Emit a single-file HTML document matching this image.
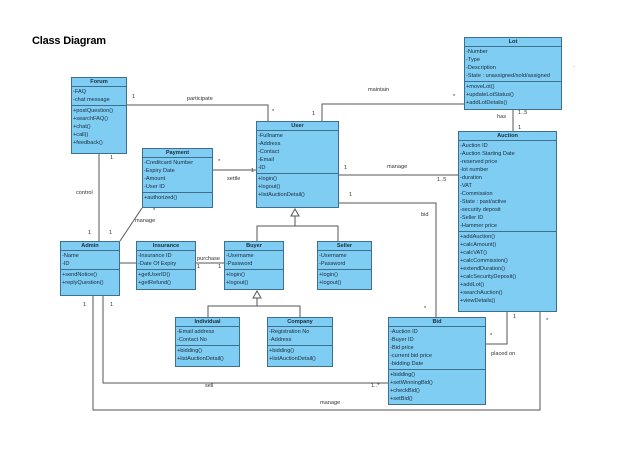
<!DOCTYPE html>
<html><head><meta charset="utf-8">
<style>
body{margin:0;width:640px;height:453px;background:#fff;position:relative;overflow:hidden;font-family:"Liberation Sans",Arial,sans-serif;}
.b{position:absolute;background:#7fcdf2;border:1px solid #3f6f8e;box-sizing:border-box;font-size:5.6px;color:#1a2a3a;}
.h{height:8px;line-height:8px;text-align:center;font-weight:bold;border-bottom:1px solid #3f6f8e;}
.a{border-bottom:1px solid #3f6f8e;padding:1px 0 1px 1px;}
.m{padding:1px 0 0 1px;}
.a div,.m div{height:8px;line-height:8px;white-space:nowrap;}
.t{position:absolute;font-size:5.6px;color:#333;white-space:nowrap;}
</style></head><body>
<div style="position:absolute;left:32px;top:35px;font-size:11px;font-weight:bold;color:#000;letter-spacing:-0.2px;">Class Diagram</div>
<div class="t" style="left:573px;top:64px;color:#888">-</div>
<svg width="640" height="453" style="position:absolute;left:0;top:0" fill="none" stroke="#555" stroke-width="1">
<polyline points="126,105 268,105 268,121"/>
<polyline points="322,121 322,104 464,104"/>
<line x1="513" y1="110" x2="513" y2="131"/>
<line x1="339" y1="175" x2="458" y2="175"/>
<polyline points="339,203 436,203 436,317"/>
<line x1="213" y1="170" x2="256" y2="170"/>
<line x1="99" y1="154" x2="99" y2="241"/>
<line x1="142" y1="208" x2="120" y2="241"/>
<line x1="120" y1="263" x2="136" y2="263"/>
<line x1="196" y1="263" x2="224" y2="263"/>
<polygon points="295,209 291,216 299,216" fill="#fff"/>
<polyline points="295,216 295,226"/>
<polyline points="257,241 257,226 338,226 338,241"/>
<polygon points="257,291 253,298 261,298" fill="#fff"/>
<polyline points="257,298 257,306"/>
<polyline points="208,317 208,306 300,306 300,317"/>
<polyline points="103,296 103,383 388,383"/>
<polyline points="93,296 93,410 540,410 540,312"/>
<polyline points="507,312 507,344 486,344"/>
</svg>
<div class="b" style="left:71px;top:77px;width:56px;height:77px"><div class="h">Forum</div><div class="a"><div>-FAQ</div><div>-chat message</div></div><div class="m"><div>+postQuestion()</div><div>+searchFAQ()</div><div>+chat()</div><div>+call()</div><div>+feedback()</div></div></div>
<div class="b" style="left:142px;top:148px;width:71px;height:60px"><div class="h">Payment</div><div class="a"><div>-Creditcard Number</div><div>-Expiry Date</div><div>-Amount</div><div>-User ID</div></div><div class="m"><div>+authorized()</div></div></div>
<div class="b" style="left:256px;top:121px;width:83px;height:87px"><div class="h">User</div><div class="a"><div>-Fullname</div><div>-Address</div><div>-Contact</div><div>-Email</div><div>-ID</div></div><div class="m"><div>+login()</div><div>+logout()</div><div>+listAuctionDetail()</div></div></div>
<div class="b" style="left:464px;top:37px;width:98px;height:73px"><div class="h">Lot</div><div class="a"><div>-Number</div><div>-Type</div><div>-Description</div><div>-State : unassigned/sold/assigned</div></div><div class="m"><div>+moveLot()</div><div>+updateLotStatus()</div><div>+addLotDetails()</div></div></div>
<div class="b" style="left:458px;top:131px;width:99px;height:181px"><div class="h">Auction</div><div class="a"><div>-Auction ID</div><div>-Auction Starting Date</div><div>-reserved price</div><div>-lot number</div><div>-duration</div><div>-VAT</div><div>-Commission</div><div>-State : past/active</div><div>-security deposit</div><div>-Seller ID</div><div>-Hammer price</div></div><div class="m"><div>+addAuction()</div><div>+calcAmount()</div><div>+calcVAT()</div><div>+calcCommission()</div><div>+extendDuration()</div><div>+calcSecurityDeposit()</div><div>+addLot()</div><div>+searchAuction()</div><div>+viewDetails()</div></div></div>
<div class="b" style="left:60px;top:241px;width:60px;height:55px"><div class="h">Admin</div><div class="a"><div>-Name</div><div>-ID</div></div><div class="m"><div>+sendNotice()</div><div>+replyQuestion()</div></div></div>
<div class="b" style="left:136px;top:241px;width:60px;height:49px"><div class="h">Insurance</div><div class="a"><div>-Insurance ID</div><div>-Date Of Expiry</div></div><div class="m"><div>+getUserID()</div><div>+getRefund()</div></div></div>
<div class="b" style="left:224px;top:241px;width:60px;height:49px"><div class="h">Buyer</div><div class="a"><div>-Username</div><div>-Password</div></div><div class="m"><div>+login()</div><div>+logout()</div></div></div>
<div class="b" style="left:317px;top:241px;width:55px;height:49px"><div class="h">Seller</div><div class="a"><div>-Username</div><div>-Password</div></div><div class="m"><div>+login()</div><div>+logout()</div></div></div>
<div class="b" style="left:175px;top:317px;width:65px;height:50px"><div class="h">Individual</div><div class="a"><div>-Email address</div><div>-Contact No</div></div><div class="m"><div>+bidding()</div><div>+listAuctionDetail()</div></div></div>
<div class="b" style="left:267px;top:317px;width:66px;height:50px"><div class="h">Company</div><div class="a"><div>-Registration No</div><div>-Address</div></div><div class="m"><div>+bidding()</div><div>+listAuctionDetail()</div></div></div>
<div class="b" style="left:388px;top:317px;width:98px;height:88px"><div class="h">Bid</div><div class="a"><div>-Auction ID</div><div>-Buyer ID</div><div>-Bid price</div><div>-current bid price</div><div>-bidding Date</div></div><div class="m"><div>+bidding()</div><div>+setWinningBid()</div><div>+checkBid()</div><div>+setBid()</div></div></div>
<div class="t" style="left:132px;top:94px">1</div>
<div class="t" style="left:187px;top:96px">participate</div>
<div class="t" style="left:272px;top:109px">*</div>
<div class="t" style="left:312px;top:111px">1</div>
<div class="t" style="left:368px;top:87px">maintain</div>
<div class="t" style="left:453px;top:94px">*</div>
<div class="t" style="left:497px;top:114px">has</div>
<div class="t" style="left:518px;top:110px">1..5</div>
<div class="t" style="left:518px;top:125px">1</div>
<div class="t" style="left:344px;top:165px">1</div>
<div class="t" style="left:387px;top:164px">manage</div>
<div class="t" style="left:437px;top:177px">1..5</div>
<div class="t" style="left:349px;top:192px">1</div>
<div class="t" style="left:421px;top:212px">bid</div>
<div class="t" style="left:424px;top:306px">*</div>
<div class="t" style="left:218px;top:159px">*</div>
<div class="t" style="left:251px;top:168px">1</div>
<div class="t" style="left:227px;top:176px">settle</div>
<div class="t" style="left:110px;top:155px">1</div>
<div class="t" style="left:76px;top:190px">control</div>
<div class="t" style="left:153px;top:208px">*</div>
<div class="t" style="left:135px;top:218px">manage</div>
<div class="t" style="left:88px;top:230px">1</div>
<div class="t" style="left:109px;top:230px">1</div>
<div class="t" style="left:197px;top:256px">purchase</div>
<div class="t" style="left:197px;top:264px">1</div>
<div class="t" style="left:218px;top:264px">1</div>
<div class="t" style="left:83px;top:302px">1</div>
<div class="t" style="left:110px;top:302px">1</div>
<div class="t" style="left:205px;top:383px">sell</div>
<div class="t" style="left:371px;top:383px">1..*</div>
<div class="t" style="left:320px;top:400px">manage</div>
<div class="t" style="left:490px;top:333px">*</div>
<div class="t" style="left:513px;top:314px">1</div>
<div class="t" style="left:546px;top:318px">*</div>
<div class="t" style="left:491px;top:351px">placed on</div>
</body></html>
